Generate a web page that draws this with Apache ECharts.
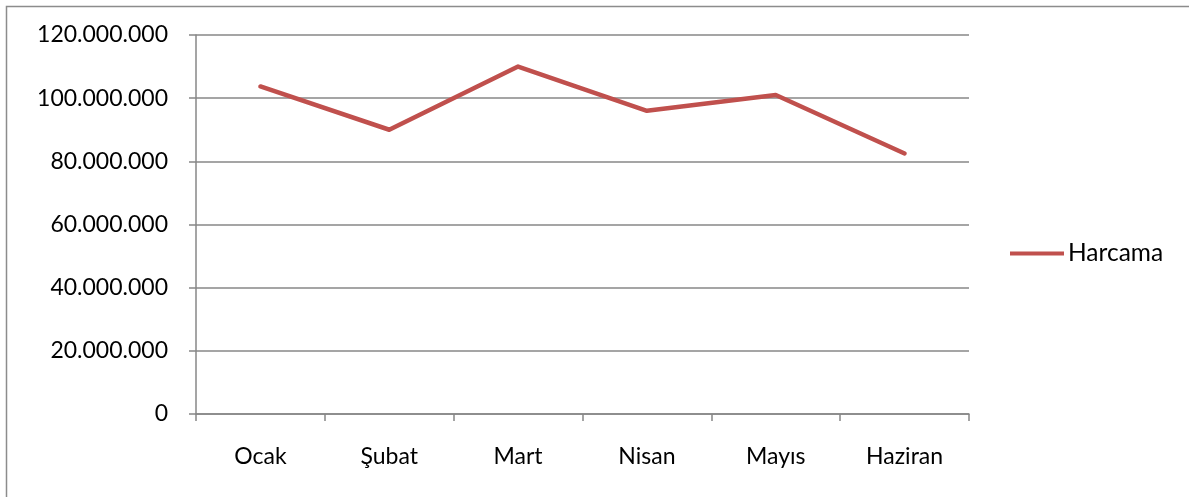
<!DOCTYPE html>
<html>
<head>
<meta charset="utf-8">
<script src="https://cdn.jsdelivr.net/npm/echarts@6/dist/echarts.min.js"></script>
<style>
html,body{margin:0;padding:0;background:#fff;}
#c{width:1189px;height:497px;}
</style>
</head>
<body>
<div id="c"></div>
<script>
const categories = ['Ocak', 'Şubat', 'Mart', 'Nisan', 'Mayıs', 'Haziran'];
const harcama = [103700000, 90000000, 110000000, 96000000, 101000000, 82500000];
const seriesName = 'Harcama';
const yMin = 0, yMax = 120000000, yStep = 20000000;

function fmt(v) {
  return String(v).replace(/\B(?=(\d{3})+(?!\d))/g, '.');
}

const chart = echarts.init(document.getElementById('c'));
const FONT = 'Lato';
chart.setOption({
  animation: false,
  backgroundColor: '#fff',
  textStyle: { fontFamily: FONT },
  graphic: [{
    type: 'rect',
    shape: { x: 6.5, y: 6.5, width: 1400, height: 700 },
    style: { fill: 'none', stroke: '#8c8c8c', lineWidth: 1.5 },
    silent: true
  }],
  grid: { left: 196, right: 220, top: 35, bottom: 83, containLabel: false },
  legend: {
    data: [seriesName],
    orient: 'vertical',
    left: 1010,
    top: 241,
    itemWidth: 54,
    itemHeight: 4,
    itemGap: 4,
    icon: 'rect',
    textStyle: { fontFamily: FONT, fontSize: 24.5, color: '#000', padding: [0,0,0,-1] },
    padding: 0
  },
  xAxis: {
    type: 'category',
    data: categories,
    boundaryGap: true,
    axisLine: { show: true, lineStyle: { color: '#878787', width: 1.5 } },
    axisTick: { show: true, length: 7, inside: false, lineStyle: { color: '#878787', width: 1.5 } },
    axisLabel: { fontFamily: FONT, fontSize: 23, color: '#000', margin: 31 },
    splitLine: { show: false }
  },
  yAxis: {
    type: 'value',
    min: yMin, max: yMax, interval: yStep,
    axisLine: { show: true, lineStyle: { color: '#878787', width: 1.5 } },
    axisTick: { show: true, length: 7, lineStyle: { color: '#878787', width: 1.5 } },
    axisLabel: { fontFamily: FONT, fontSize: 23, color: '#000', margin: 28, formatter: fmt },
    splitLine: { show: true, lineStyle: { color: '#878787', width: 1.5 } }
  },
  series: [{
    name: seriesName,
    type: 'line',
    data: harcama,
    showSymbol: false,
    symbol: 'none',
    lineStyle: { color: '#C0504D', width: 4.5, cap: 'round', join: 'round' },
    itemStyle: { color: '#C0504D' }
  }]
});
</script>
</body>
</html>
